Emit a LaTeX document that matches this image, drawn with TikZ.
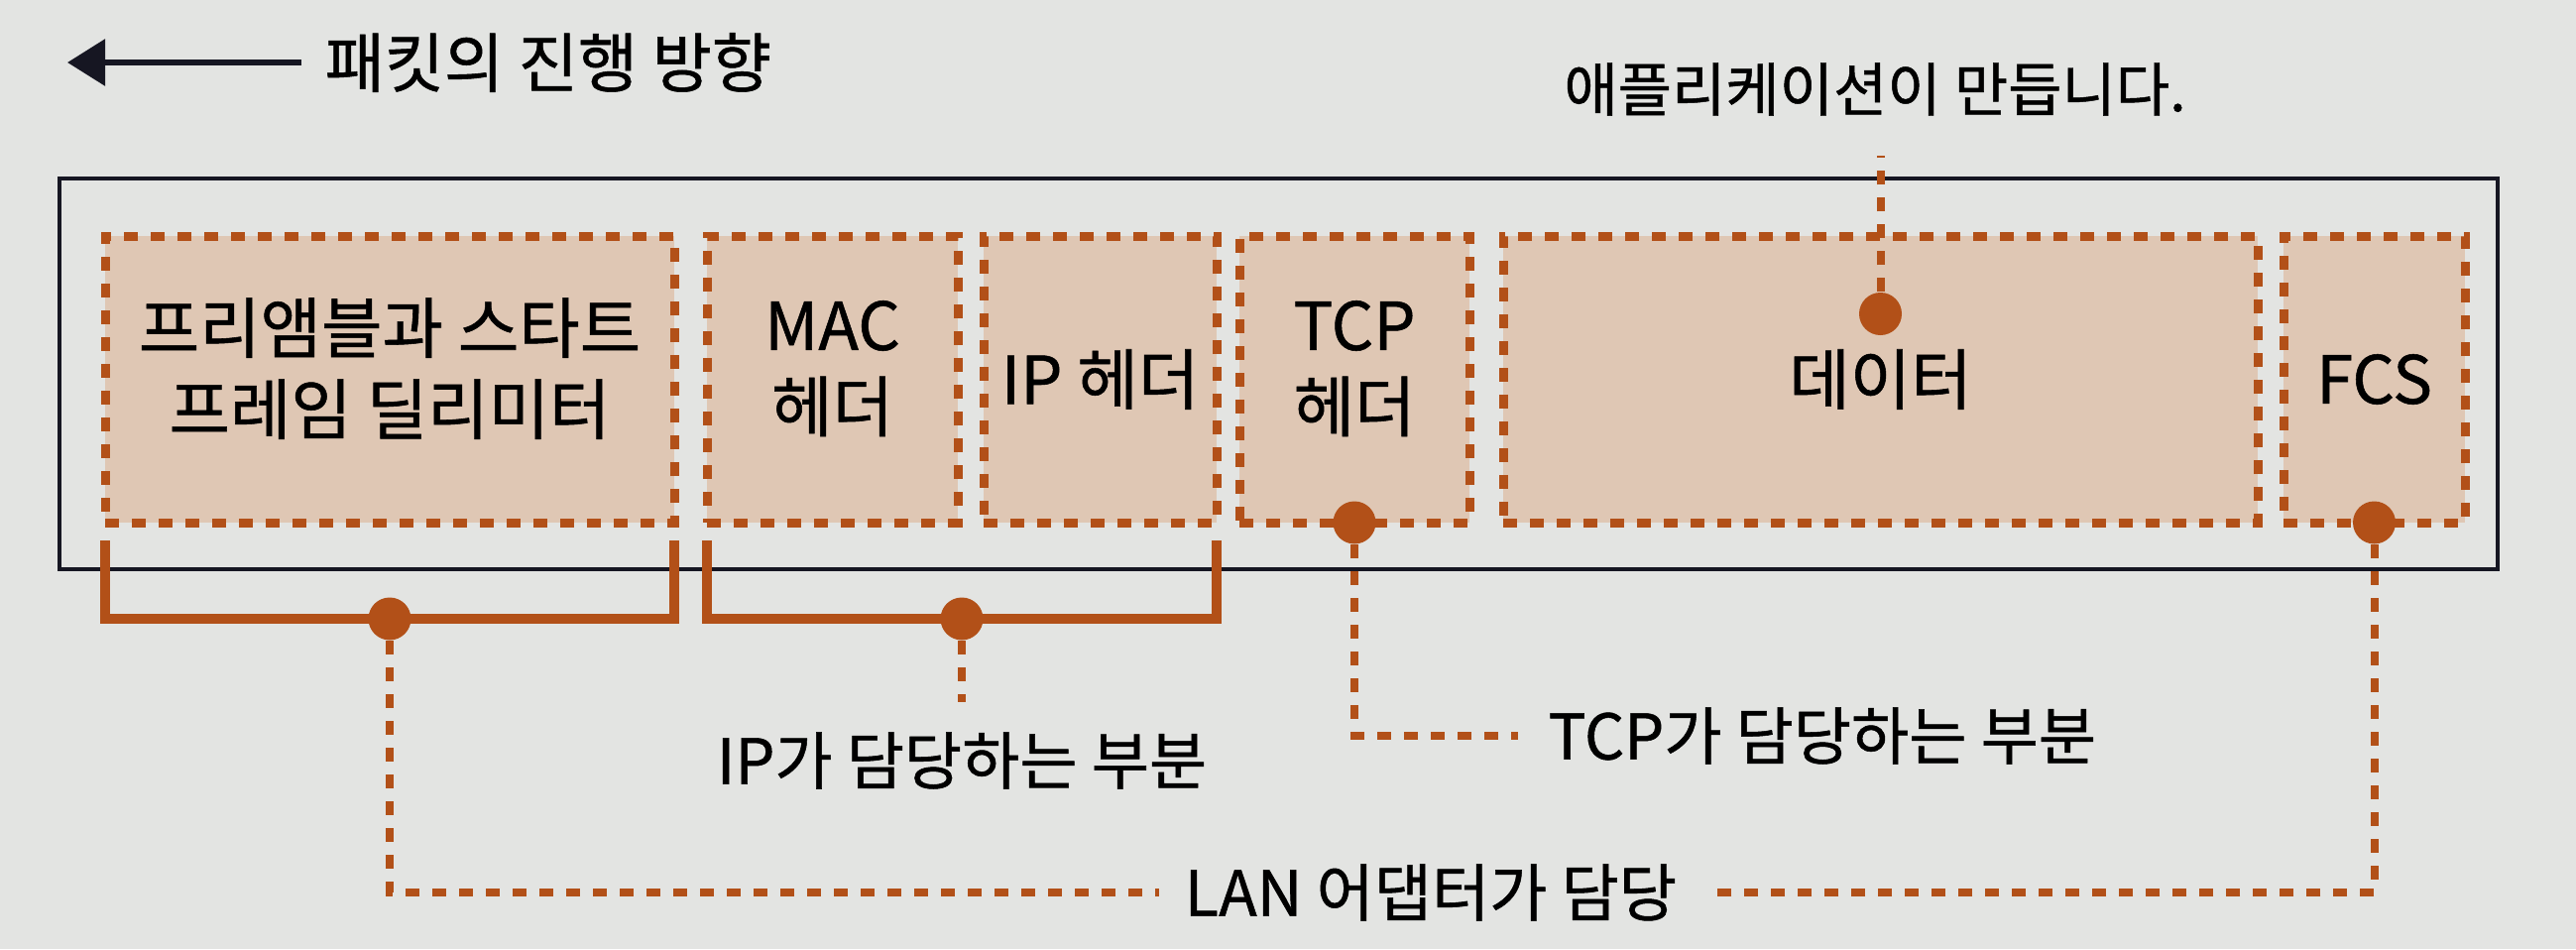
\documentclass[tikz,border=0pt]{standalone}
\usepackage{fontspec}
\setmainfont{Noto Sans CJK KR}[FakeBold=0.8]
\usetikzlibrary{arrows.meta,calc}

\definecolor{paper}{RGB}{227,228,226}
\definecolor{fieldfill}{RGB}{223,199,180}
\definecolor{rust}{RGB}{178,80,24}
\definecolor{ink}{RGB}{22,22,34}

\newcommand\boxfont{\fontsize{19}{23.3}\selectfont}
\newcommand\tagfont{\fontsize{18}{20}\selectfont}
\newcommand\appfont{\fontsize{16.8}{18}\selectfont}
\newcommand\titlefont{\fontsize{18.6}{20}\selectfont}

\tikzset{
	field/.style={draw=rust,fill=fieldfill,line width=0.9mm,dash pattern=on 1.4mm off 1.3mm,
		outer sep=0pt,minimum height=28.9mm,align=center,font=\boxfont},
	twoline/.style={text depth=2.7mm},
	packetframe/.style={draw=ink,line width=0.4mm,outer sep=0pt},
	bracket/.style={draw=rust,line width=1mm},
	link/.style={draw=rust,line width=0.8mm,dash pattern=on 1.4mm off 1.3mm},
	dot/.style={circle,fill=rust,inner sep=0pt,minimum size=4.3mm},
	tag/.style={font=\tagfont,inner sep=0pt}
}

\begin{document}
\begin{tikzpicture}[x=0.1mm,y=-0.1mm]
	\fill[paper] (0,0) rectangle (2598,957);
	\useasboundingbox (0,0) rectangle (2598,957);

	% heading
	\node[tag,anchor=west,font=\titlefont] (heading) at (327,63) {패킷의 진행 방향};
	\coordinate (headtip) at (68,63);
	\draw[ink,line width=0.6mm,-{Triangle[length=3.8mm,width=4.6mm]}] ([xshift=-2.3mm]heading.west) -- (headtip);

	% the frame and its fields
	\node[packetframe,minimum width=245.9mm,minimum height=39.4mm] (packet) at (1289.5,377) {};
	\node[field,twoline,minimum width=57.4mm] (pre) at (393,382.5) {프리앰블과 스타트\\프레임 딜리미터};
	\node[field,twoline,minimum width=25.3mm] (mac) at (839.5,382.5) {MAC\\헤더};
	\node[field,minimum width=23.5mm] (ip) at (1109.5,382.5) {IP 헤더};
	\node[field,twoline,minimum width=23.2mm] (tcp) at (1366,382.5) {TCP\\헤더};
	\node[field,minimum width=76.1mm] (data) at (1896.5,382.5) {데이터};
	\node[field,minimum width=18.3mm] (fcs) at (2394.5,382.5) {FCS};

	% brackets under the frame
	\coordinate (brtop) at (0,545);
	\coordinate (brbot) at (0,624);
	\draw[bracket] (pre.west |- brtop) -- (pre.west |- brbot) -- (pre.east |- brbot) -- (pre.east |- brtop);
	\draw[bracket] (mac.west |- brtop) -- (mac.west |- brbot) -- (ip.east |- brbot) -- (ip.east |- brtop);

	\node[dot] (predot) at (pre.south |- brbot) {};
	\node[dot] (ipdot) at ($(mac.west |- brbot)!0.5!(ip.east |- brbot)$) {};
	\node[dot] (tcpdot) at (tcp.south) {};
	\node[dot] (fcsdot) at (fcs.south) {};
	\node[dot] (datadot) at ([yshift=6.6mm]data.center) {};

	% labels
	\node[tag,font=\appfont] (applabel) at (1891,90) {애플리케이션이 만듭니다.};
	\node[tag] (iplabel) at (970,767) {IP가 담당하는 부분};
	\node[tag,anchor=west] (tcplabel) at (1561,742) {TCP가 담당하는 부분};
	\node[tag,anchor=west] (lanlabel) at (1194,900) {LAN 어댑터가 담당};

	\draw[link] (datadot) -- ([yshift=-4mm]datadot |- applabel.south);
	\draw[link] (ipdot) -- ([yshift=3mm]ipdot |- iplabel.north);
	\draw[link] (tcpdot) |- ([xshift=-3mm]tcplabel.west);
	\draw[link] (predot) |- ([xshift=-2.5mm]lanlabel.west);
	\draw[link] (fcsdot) |- ([xshift=3.5mm]lanlabel.east);
\end{tikzpicture}
\end{document}
